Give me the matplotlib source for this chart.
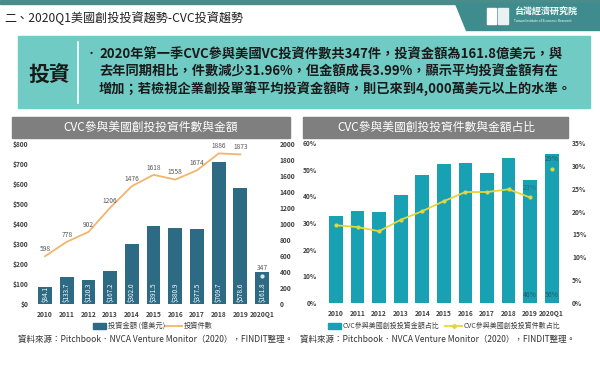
import matplotlib
matplotlib.use("Agg")
import matplotlib.pyplot as plt
from matplotlib.patches import Rectangle, Polygon
from matplotlib.lines import Line2D

plt.rcParams["font.family"] = ["Noto Sans CJK TC", "DejaVu Sans"]

years = ["2010", "2011", "2012", "2013", "2014", "2015", "2016", "2017", "2018", "2019", "2020Q1"]
amount = [84.1, 133.7, 120.3, 167.2, 302.0, 391.5, 380.9, 377.5, 709.7, 578.6, 161.8]
deals = [598, 778, 902, 1206, 1476, 1618, 1558, 1674, 1886, 1873]
deals_q1 = 347
amount_share = [32.6, 34.5, 34.0, 40.5, 47.9, 52.1, 52.6, 49.0, 54.5, 46, 56]
deal_share = [17.0, 16.6, 15.7, 18.2, 20.1, 22.3, 24.3, 24.3, 24.9, 23.1]
deal_share_q1 = 29.4

W, H = 600, 367
fig = plt.figure(figsize=(W / 100, H / 100), dpi=100)


def fx(x):
    return x / W


def fy(y):
    return 1 - y / H


def add_axes_px(x0, y0, x1, y1):
    return fig.add_axes([fx(x0), fy(y1), (x1 - x0) / W, (y1 - y0) / H])


def rect_px(x0, y0, x1, y1, color):
    fig.patches.append(Rectangle((fx(x0), fy(y1)), (x1 - x0) / W, (y1 - y0) / H,
                                 transform=fig.transFigure, color=color, zorder=0))


# header
rect_px(0, 0, 600, 4, "#4a8b8b")
fig.patches.append(Polygon([(fx(455), fy(3)), (fx(600), fy(3)), (fx(600), fy(30)), (fx(466), fy(30))],
                           closed=True, transform=fig.transFigure, color="#3f8c8e", zorder=0))
fig.text(fx(4), fy(18), "二、2020Q1美國創投投資趨勢-CVC投資趨勢", fontsize=8.7, color="#222222", va="center")
fig.text(fx(514), fy(12), "台灣經濟研究院", fontsize=6.5, color="white", va="center", weight="bold")
fig.text(fx(514), fy(21), "Taiwan Institute of Economic Research", fontsize=2.3, color="white", va="center")
rect_px(487, 8, 496, 24, "white")
rect_px(498, 8, 508, 24, "#e8f2f2")

# text box
rect_px(18, 36, 590, 108, "#6fcbc4")
fig.lines.append(Line2D([fx(78), fx(78)], [fy(42), fy(103)], transform=fig.transFigure, color="white", lw=1.2))
fig.text(fx(49), fy(74), "投資", fontsize=15, weight="bold", color="#1a1a1a", ha="center", va="center")
fig.text(fx(86), fy(54), "•", fontsize=8, color="#1a1a1a", va="center")
lines = [
    "2020年第一季CVC參與美國VC投資件數共347件，投資金額為161.8億美元，與",
    "去年同期相比，件數減少31.96%，但金額成長3.99%，顯示平均投資金額有在",
    "增加；若檢視企業創投單筆平均投資金額時，則已來到4,000萬美元以上的水準。",
]
for i, t in enumerate(lines):
    fig.text(fx(99), fy(55 + 17 * i), t, fontsize=9.5, weight="bold", color="#1a1a1a", va="center")

# chart title bars
rect_px(12, 117, 290, 138, "#7f7f7f")
fig.text(fx(151), fy(127.5), "CVC參與美國創投投資件數與金額", fontsize=8.5, color="white", ha="center", va="center")
rect_px(303, 117, 568, 138, "#7f7f7f")
fig.text(fx(436), fy(127.5), "CVC參與美國創投投資件數與金額占比", fontsize=8.5, color="white", ha="center", va="center")

tick_kw = dict(fontsize=4.8, weight="bold", color="#404040")
x = list(range(len(years)))

# left chart
ax = add_axes_px(34.2, 144.3, 272.9, 304)
ax2 = ax.twinx()
bar_c = "#2d6a84"
ax.bar(x, amount, width=0.64, color=bar_c, zorder=2)
ax.set_ylim(0, 800)
ax.set_yticks(range(0, 801, 100))
ax.set_yticklabels([f"${v}" for v in range(0, 801, 100)], **tick_kw)
ax.set_xlim(-0.5, 10.5)
ax.set_xticks(x)
ax.set_xticklabels(years, **tick_kw)
for i, v in enumerate(amount):
    ax.text(i, 8, f"${v:.1f}", rotation=90, ha="center", va="bottom", fontsize=4.6, color="white", zorder=3)
ax2.plot(x[:len(deals)], deals, color="#f3b56c", lw=1.3, zorder=3)
ax2.plot([x[-1]], [deals_q1], "o", ms=2, color="#dbe8ef", zorder=3)
for i, v in enumerate(deals):
    ax2.text(i, v + 40, str(v), ha="center", va="bottom", fontsize=4.8, color="#595959")
ax2.text(x[-1], deals_q1 + 60, str(deals_q1), ha="center", va="bottom", fontsize=4.8, color="#595959")
ax2.set_ylim(0, 2000)
ax2.set_yticks(range(0, 2001, 200))
ax2.set_yticklabels([str(v) for v in range(0, 2001, 200)], **tick_kw)
for a in (ax, ax2):
    for s in a.spines.values():
        s.set_visible(False)
    a.tick_params(length=0)
ax.tick_params(axis="y", pad=4)
ax.tick_params(axis="x", pad=5)
ax2.tick_params(axis="y", pad=5)
ax.set_zorder(ax2.get_zorder() - 1)
ax.patch.set_visible(False)

# left legend
rect_px(93, 323, 106, 329, bar_c)
fig.text(fx(108), fy(326), "投資金額 (億美元)", fontsize=5.2, color="#404040", va="center")
fig.lines.append(Line2D([fx(165), fx(182)], [fy(326), fy(326)], transform=fig.transFigure, color="#f3b56c", lw=1.3))
fig.text(fx(184), fy(326), "投資件數", fontsize=5.2, color="#404040", va="center")
fig.text(fx(18), fy(339), "資料來源：Pitchbook．NVCA Venture Monitor（2020），FINDIT整理。", fontsize=6.1, color="#333333", va="center")

# right chart
bx = add_axes_px(325.2, 143.3, 562.5, 302.7)
bx2 = bx.twinx()
bar_c2 = "#17a1b3"
bx.bar(x, amount_share, width=0.64, color=bar_c2, zorder=2)
bx.set_ylim(0, 60)
bx.set_yticks(range(0, 61, 10))
bx.set_yticklabels([f"{v}%" for v in range(0, 61, 10)], **tick_kw)
bx.set_xlim(-0.5, 10.5)
bx.set_xticks(x)
bx.set_xticklabels(years, **tick_kw)
for i in (9, 10):
    bx.text(i, 1.5, f"{amount_share[i]:.0f}%", ha="center", va="bottom", fontsize=5, color="#1d5f70")
line_c = "#e6d53c"
bx2.plot(x[:len(deal_share)], deal_share, color=line_c, lw=1.3, marker="o", ms=2, zorder=3)
bx2.plot([x[-1]], [deal_share_q1], "o", ms=2, color=line_c, zorder=3)
bx2.text(9, deal_share[9] + 1.2, f"{deal_share[9]:.0f}%", ha="center", va="bottom", fontsize=5, color="#2a6f7a")
bx2.text(10, deal_share_q1 + 1.3, f"{deal_share_q1:.0f}%", ha="center", va="bottom", fontsize=5, color="#1d5f70")
bx2.set_ylim(0, 35)
bx2.set_yticks(range(0, 36, 5))
bx2.set_yticklabels([f"{v}%" for v in range(0, 36, 5)], **tick_kw)
for a in (bx, bx2):
    for s in a.spines.values():
        s.set_visible(False)
    a.tick_params(length=0)
bx.tick_params(axis="y", pad=6)
bx.tick_params(axis="x", pad=5)
bx2.tick_params(axis="y", pad=7)
bx.set_zorder(bx2.get_zorder() - 1)
bx.patch.set_visible(False)

# right legend
rect_px(328, 323, 341, 329, bar_c2)
fig.text(fx(343), fy(326), "CVC參與美國創投投資金額占比", fontsize=5.0, color="#404040", va="center")
fig.lines.append(Line2D([fx(445), fx(462)], [fy(326), fy(326)], transform=fig.transFigure, color=line_c, lw=1.3))
fig.lines.append(Line2D([fx(453.5)], [fy(326)], transform=fig.transFigure, color=line_c, marker="o", ms=2.5, lw=0))
fig.text(fx(464), fy(326), "CVC參與美國創投投資件數占比", fontsize=5.0, color="#404040", va="center")
fig.text(fx(300), fy(339), "資料來源：Pitchbook．NVCA Venture Monitor（2020），FINDIT整理。", fontsize=6.1, color="#333333", va="center")

fig.savefig("out.png", dpi=100)
